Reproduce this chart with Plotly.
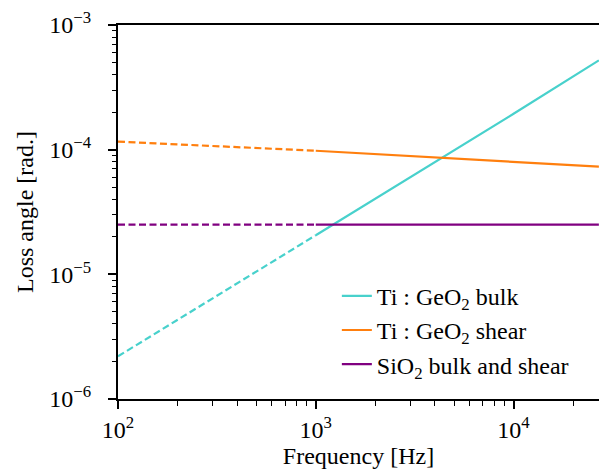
import plotly.graph_objects as go

# Data
freq_dashed = [100, 200, 500, 1000]
freq_solid = [1000, 2000, 5000, 10000, 27000]

bulk_dashed = [2.2e-6, 4.3e-6, 1.05e-5, 2.06e-5]
bulk_solid = [2.06e-5, 4.05e-5, 9.9e-5, 1.94e-4, 5.2e-4]

shear_dashed = [1.16e-4, 1.10e-4, 1.03e-4, 9.8e-5]
shear_solid = [9.8e-5, 9.2e-5, 8.4e-5, 7.9e-5, 7.3e-5]

sio2_dashed = [2.5e-5, 2.5e-5, 2.5e-5, 2.5e-5]
sio2_solid = [2.5e-5, 2.5e-5, 2.5e-5, 2.5e-5, 2.5e-5]

names = ["Ti : GeO<sub>2</sub> bulk", "Ti : GeO<sub>2</sub> shear", "SiO<sub>2</sub> bulk and shear"]
colors = ["#48D1CC", "#FF7F0E", "#800080"]

x_ticks = [100, 1000, 10000]
x_ticktext = ["10<sup>2</sup>", "10<sup>3</sup>", "10<sup>4</sup>"]
y_ticks = [1e-6, 1e-5, 1e-4, 1e-3]
y_ticktext = ["10<sup>\u22126</sup>", "10<sup>\u22125</sup>", "10<sup>\u22124</sup>", "10<sup>\u22123</sup>"]

FONT = "Liberation Serif"
FS = 24

fig = go.Figure()
series = [(bulk_dashed, bulk_solid), (shear_dashed, shear_solid), (sio2_dashed, sio2_solid)]
for (yd, ys), name, col in zip(series, names, colors):
    fig.add_trace(go.Scatter(x=freq_solid, y=ys, mode="lines", name=name,
                             line=dict(color=col, width=2.2)))
    fig.add_trace(go.Scatter(x=freq_dashed, y=yd, mode="lines", showlegend=False,
                             line=dict(color=col, width=2.2, dash="7px,3.5px")))

fig.update_layout(
    width=599, height=474,
    margin=dict(l=118, r=0, t=25, b=75),
    plot_bgcolor="white", paper_bgcolor="white",
    font=dict(family=FONT, size=FS, color="black"),
    showlegend=True,
    legend=dict(x=0.455, y=0.335, xanchor="left", yanchor="top",
                bgcolor="rgba(255,255,255,0)", borderwidth=0,
                font=dict(family=FONT, size=FS), tracegroupgap=0),
)
fig.update_xaxes(
    type="log", range=[2, 4.432],
    showline=True, linecolor="black", linewidth=2, mirror=True,
    showgrid=False, zeroline=False,
    tickvals=x_ticks, ticktext=x_ticktext,
    ticks="outside", ticklen=8, tickwidth=1.5, tickcolor="black",
    minor=dict(ticks="outside", ticklen=4.5, tickwidth=1.2, tickcolor="black", dtick="D1", showgrid=False),
    title=dict(text="Frequency [Hz]", font=dict(family=FONT, size=FS), standoff=4),
)
fig.update_yaxes(
    type="log", range=[-6, -3],
    showline=True, linecolor="black", linewidth=2, mirror=False,
    showgrid=False, zeroline=False,
    tickvals=y_ticks, ticktext=y_ticktext,
    ticks="outside", ticklen=8, tickwidth=1.5, tickcolor="black",
    ticklabelstandoff=12,
    minor=dict(ticks="outside", ticklen=4.5, tickwidth=1.2, tickcolor="black", dtick="D1", showgrid=False),
    title=dict(text="Loss angle [rad.]", font=dict(family=FONT, size=FS), standoff=9),
)

# remove the default page margin so the figure sits at the window's top-left corner
fig.write_html("out.html",
               config={"displayModeBar": False},
               post_script="document.body.style.margin='0';document.body.style.overflow='hidden';")
